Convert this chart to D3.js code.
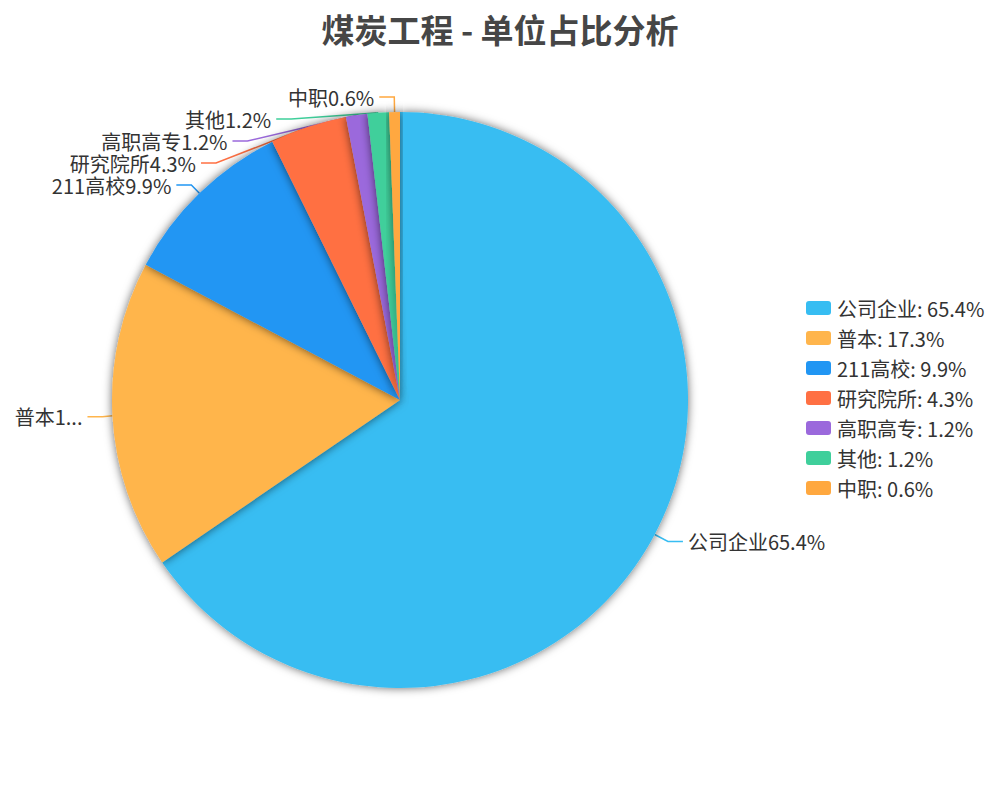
<!DOCTYPE html>
<html>
<head>
<meta charset="utf-8">
<script src="https://cdn.jsdelivr.net/npm/d3@7"></script>
<style>
  body { margin: 0; background: #fff; }
  text { font-family: "Microsoft YaHei", "Noto Sans CJK SC", sans-serif; }
</style>
</head>
<body>
<div id="container"></div>
<script>
/* DATA */
const categories = ["公司企业", "普本", "211高校", "研究院所", "高职高专", "其他", "中职"]
const shares = [65.4, 17.3, 9.9, 4.3, 1.2, 1.2, 0.6]
const colors = ["#37bdf2", "#ffb54c", "#2196f3", "#ff7043", "#9b69dc", "#3fcf9b", "#ffa83f"]
const title = "煤炭工程 - 单位占比分析"

/* CONSTANTS */
const width = 1000, height = 800
const cx = width * 0.4, cy = height / 2
const radius = Math.min(width, height) / 2 * 0.72
const len1 = 15, len2 = 15, labelDist = 5, bleed = 10, labelH = 22
const fontSize = 20

const data = categories.map((c, i) => ({ name: c, value: shares[i], color: colors[i] }))

const svg = d3.select("#container")
  .append("svg")
    .attr("width", width)
    .attr("height", height)

const defs = svg.append("defs")
const f = defs.append("filter")
    .attr("id", "shadow")
    .attr("x", "-20%").attr("y", "-20%")
    .attr("width", "140%").attr("height", "140%")
f.append("feDropShadow")
    .attr("dx", 0).attr("dy", 0)
    .attr("stdDeviation", 5)
    .attr("flood-color", "#000")
    .attr("flood-opacity", 0.6)

// TITLE
svg.append("text")
    .attr("x", width / 2)
    .attr("y", 29)
    .attr("text-anchor", "middle")
    .attr("dominant-baseline", "central")
    .style("font-size", "33px")
    .style("font-weight", "bold")
    .style("fill", "#464646")
    .text(title)

// PIE
const pie = d3.pie().sort(null).value(d => d.value)
const arcs = pie(data)
const arc = d3.arc().innerRadius(0).outerRadius(radius)

// text measuring helper
const measure = svg.append("text").style("font-size", fontSize + "px").attr("opacity", 0)
function textW(s) { measure.text(s); return measure.node().getComputedTextLength() }

// LABEL LAYOUT (echarts-like)
const labels = arcs.map(a => {
  const mid = (a.startAngle + a.endAngle) / 2
  const dx = Math.sin(mid), dy = -Math.cos(mid)
  const dir = dx < 0 ? -1 : 1
  const x0 = cx + radius * dx, y0 = cy + radius * dy
  const x1 = cx + (radius + len1) * dx, y1 = cy + (radius + len1) * dy
  const x2 = x1 + dir * len2
  return {
    d: a.data, dir, p0: [x0, y0], x1, x2,
    x: x2 + dir * labelDist, y: y1,
    text: a.data.name + a.data.value.toFixed(1) + "%"
  }
})

function adjustSide(list) {
  if (list.length < 2) return
  list.sort((a, b) => a.y - b.y)
  let last = -Infinity, adjusted = false
  list.forEach(l => {
    const top = l.y - labelH / 2
    if (top < last) { l.y += last - top; adjusted = true }
    last = l.y + labelH / 2
  })
  if (!adjusted) return
  const semis = [{ list: [], maxY: 0 }, { list: [], maxY: 0 }]
  list.forEach(l => {
    const semi = l.y > cy ? semis[1] : semis[0]
    const dy = Math.abs(l.y - cy)
    if (dy >= semi.maxY) {
      const dx = l.x - cx - len2 * l.dir
      const rA = radius + len1
      semi.rB = Math.abs(dx) < rA ? Math.sqrt(dy * dy / (1 - dx * dx / rA / rA)) : rA
      semi.maxY = dy
    }
    semi.list.push(l)
  })
  semis.forEach(semi => {
    semi.list.forEach(l => {
      const dy = Math.abs(l.y - cy)
      const rA = radius + len1
      const dx = Math.sqrt(Math.max(0, 1 - dy * dy / (semi.rB * semi.rB))) * rA
      l.x = cx + (dx + len2) * l.dir
    })
  })
}
adjustSide(labels.filter(l => l.dir < 0))
adjustSide(labels.filter(l => l.dir > 0))

labels.forEach(l => {
  const avail = l.dir < 0 ? l.x - bleed : width - l.x - bleed
  let t = l.text
  if (textW(t) > avail) {
    let s = ""
    for (const ch of l.text) {
      if (textW(s + ch + "...") > avail) break
      s += ch
    }
    t = s + "..."
  }
  l.shown = t
  const px2 = l.x - l.dir * labelDist
  const px1 = px2 - l.dir * len2
  l.points = [l.p0, [px1, l.y], [px2, l.y]]
})
measure.remove()

// label lines (behind slices)
svg.append("g")
  .selectAll("path")
  .data(labels)
  .join("path")
    .attr("d", l => d3.line()(l.points))
    .attr("fill", "none")
    .attr("stroke", l => l.d.color)
    .attr("stroke-width", 1.5)

// slices
svg.append("g")
    .attr("transform", `translate(${cx},${cy})`)
  .selectAll("path")
  .data(arcs)
  .join("path")
    .attr("d", arc)
    .attr("fill", d => d.data.color)
    .attr("filter", "url(#shadow)")

// label texts
svg.append("g")
  .selectAll("text")
  .data(labels)
  .join("text")
    .attr("x", l => l.x)
    .attr("y", l => l.y)
    .attr("text-anchor", l => l.dir < 0 ? "end" : "start")
    .attr("dominant-baseline", "central")
    .style("font-size", fontSize + "px")
    .style("fill", "#333")
    .text(l => l.shown)

// LEGEND
const itemGap = 30
const legend = svg.append("g")
    .attr("transform", `translate(806,${cy - 2 - itemGap * (data.length - 1) / 2})`)
const items = legend.selectAll("g")
  .data(data)
  .join("g")
    .attr("transform", (d, i) => `translate(0,${i * itemGap})`)
items.append("rect")
    .attr("x", 0).attr("y", -7)
    .attr("width", 25).attr("height", 14)
    .attr("rx", 3)
    .attr("fill", d => d.color)
items.append("text")
    .attr("x", 31)
    .attr("y", 0)
    .attr("dominant-baseline", "central")
    .style("font-size", fontSize + "px")
    .style("fill", "#333")
    .text(d => d.name + ": " + d.value.toFixed(1) + "%")
</script>
</body>
</html>
